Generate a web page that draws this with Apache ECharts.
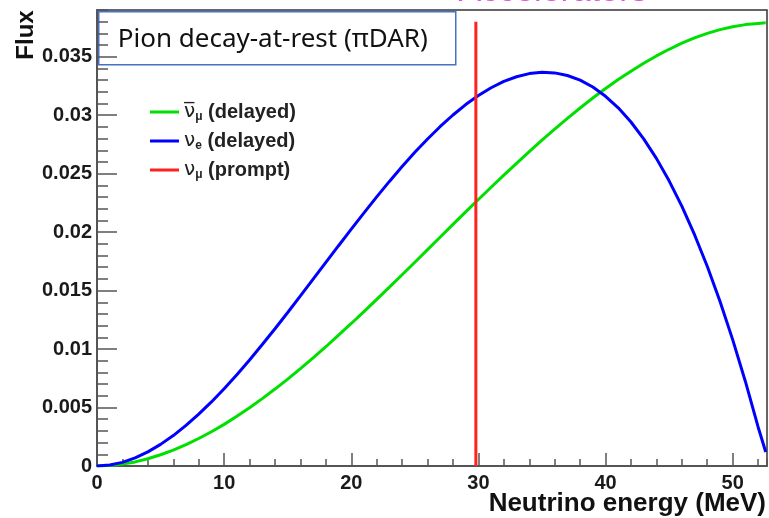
<!DOCTYPE html>
<html>
<head>
<meta charset="utf-8">
<script src="https://cdn.jsdelivr.net/npm/echarts@6/dist/echarts.min.js"></script>
<style>
  html, body { margin: 0; padding: 0; background: #fff; }
  #chart { width: 769px; height: 518px; }
</style>
</head>
<body>
<div id="chart"></div>
<script>
// neutrino energy (MeV) and flux
var energy = [0, 1, 2, 3, 4, 5, 6, 7, 8, 9, 10, 11, 12, 13, 14, 15, 16, 17, 18, 19,
  20, 21, 22, 23, 24, 25, 26, 27, 28, 29, 30, 31, 32, 33, 34, 35, 36, 37, 38, 39,
  40, 41, 42, 43, 44, 45, 46, 47, 48, 49, 50, 51, 52, 52.6];
var numubarFlux = [0, 0.00004, 0.00016, 0.00035, 0.00062, 0.00096, 0.00136, 0.00182,
  0.00235, 0.00293, 0.00356, 0.00425, 0.00498, 0.00576, 0.00658, 0.00743,
  0.00833, 0.00925, 0.0102, 0.01119, 0.01219, 0.01321, 0.01425, 0.0153,
  0.01636, 0.01743, 0.01851, 0.01959, 0.02066, 0.02173, 0.02279, 0.02384,
  0.02488, 0.02589, 0.02689, 0.02787, 0.02882, 0.02973, 0.03062, 0.03147,
  0.03228, 0.03305, 0.03377, 0.03445, 0.03507, 0.03564, 0.03616, 0.03661,
  0.037, 0.03732, 0.03757, 0.03775, 0.03785, 0.0379];
var nueFlux = [0, 0.00008, 0.00031, 0.00069, 0.00121, 0.00185, 0.0026, 0.00347,
  0.00443, 0.00548, 0.00661, 0.00781, 0.00907, 0.01039, 0.01174, 0.01313,
  0.01455, 0.01598, 0.01741, 0.01884, 0.02026, 0.02165, 0.02302, 0.02434,
  0.02561, 0.02683, 0.02797, 0.02904, 0.03002, 0.03091, 0.03168, 0.03235,
  0.03289, 0.03329, 0.03356, 0.03367, 0.03362, 0.0334, 0.033, 0.03241,
  0.03162, 0.03063, 0.02942, 0.02798, 0.02631, 0.02439, 0.02222, 0.01978,
  0.01708, 0.01409, 0.01081, 0.00723, 0.00334, 0.0012];
var promptEnergy = 29.8;
var promptTop = 0.038;

var names = ['numubar', 'nue', 'numu'];
var legendText = {
  numubar: '{nu|ν\u0305}{sub|μ}{t| (delayed)}',
  nue: '{nu|ν}{sub|e}{t| (delayed)}',
  numu: '{nu|ν}{sub|μ}{t| (prompt)}'
};

function pairs(xs, ys) {
  return xs.map(function (x, i) { return [x, ys[i]]; });
}

var chart = echarts.init(document.getElementById('chart'));

var tickStyle = { color: '#555', width: 1.5 };
var labelFont = {
  fontFamily: 'Liberation Sans, Arial, sans-serif',
  fontSize: 20,
  fontWeight: 'bold',
  color: '#1a1a1a'
};
var sans = 'Liberation Sans, Arial, sans-serif';

var option = {
  backgroundColor: '#fff',
  animation: false,
  color: ['#00e000', '#0000ff', '#ff2020'],
  grid: {
    left: 97,
    right: 2,
    top: 10,
    bottom: 52,
    show: true,
    borderColor: '#333',
    borderWidth: 1.5,
    backgroundColor: '#fff'
  },
  legend: {
    orient: 'vertical',
    left: 145,
    top: 96,
    data: names,
    icon: 'rect',
    itemWidth: 29,
    itemHeight: 3,
    itemGap: 7,
    formatter: function (name) { return legendText[name]; },
    textStyle: {
      fontFamily: sans,
      fontWeight: 'bold',
      fontSize: 20,
      color: '#222',
      lineHeight: 22,
      rich: {
        nu: { fontSize: 20, fontWeight: 'normal', color: '#222', fontFamily: 'DejaVu Sans, sans-serif' },
        sub: { fontSize: 12, fontWeight: 'bold', color: '#222', padding: [9, 0, 0, 0], fontFamily: sans },
        t: { fontSize: 20, fontWeight: 'bold', color: '#222', fontFamily: sans }
      }
    }
  },
  xAxis: [{
    type: 'value',
    min: 0,
    max: 52.7,
    interval: 10,
    axisLine: { show: true, lineStyle: { color: '#555', width: 2 } },
    axisTick: { show: true, inside: true, length: 13, lineStyle: tickStyle },
    axisLabel: Object.assign({ margin: 7, showMaxLabel: false }, labelFont),
    splitLine: { show: false }
  }, {
    type: 'value',
    position: 'bottom',
    min: 0,
    max: 52.7,
    interval: 2,
    axisLine: { show: false },
    axisTick: { show: true, inside: true, length: 7, lineStyle: tickStyle },
    axisLabel: { show: false },
    splitLine: { show: false }
  }],
  yAxis: [{
    type: 'value',
    min: 0,
    max: 0.039,
    interval: 0.005,
    axisLine: { show: true, lineStyle: { color: '#555', width: 2 } },
    axisTick: { show: true, inside: true, length: 20, lineStyle: tickStyle },
    axisLabel: Object.assign({ margin: 5, showMaxLabel: false }, labelFont),
    splitLine: { show: false }
  }, {
    type: 'value',
    position: 'left',
    min: 0,
    max: 0.039,
    interval: 0.001,
    axisLine: { show: false },
    axisTick: { show: true, inside: true, length: 11, lineStyle: tickStyle },
    axisLabel: { show: false },
    splitLine: { show: false }
  }],
  series: [{
    name: 'numubar',
    type: 'line',
    symbol: 'none',
    lineStyle: { width: 3 },
    data: pairs(energy, numubarFlux)
  }, {
    name: 'nue',
    type: 'line',
    symbol: 'none',
    lineStyle: { width: 3 },
    data: pairs(energy, nueFlux)
  }, {
    name: 'numu',
    type: 'line',
    symbol: 'none',
    lineStyle: { width: 3 },
    data: [[promptEnergy, 0], [promptEnergy, promptTop]]
  }],
  graphic: [{
    type: 'text',
    x: 553,
    y: 9,
    z: 50,
    style: {
      text: 'Accelerators',
      align: 'center',
      verticalAlign: 'bottom',
      fill: '#e050d8',
      font: '34px "Liberation Sans", Arial, sans-serif'
    }
  }, {
    type: 'text',
    x: 26,
    y: 35,
    rotation: Math.PI / 2,
    z: 50,
    style: {
      text: 'Flux',
      align: 'center',
      verticalAlign: 'middle',
      fill: '#111',
      font: 'bold 24px "Liberation Sans", Arial, sans-serif'
    }
  }, {
    type: 'text',
    right: 3,
    top: 491,
    z: 50,
    style: {
      text: 'Neutrino energy (MeV)',
      fill: '#111',
      font: 'bold 26px "Liberation Sans", Arial, sans-serif'
    }
  }, {
    type: 'group',
    left: 98,
    top: 11,
    z: 60,
    children: [{
      type: 'rect',
      shape: { x: 0, y: 0, width: 357, height: 53 },
      style: { fill: '#fff', stroke: '#4472c4', lineWidth: 1.5 }
    }, {
      type: 'text',
      x: 19,
      y: 28,
      style: {
        text: 'Pion decay-at-rest (πDAR)',
        verticalAlign: 'middle',
        fill: '#111',
        font: '26px "Noto Sans", "Open Sans", sans-serif'
      }
    }]
  }]
};

chart.setOption(option);
</script>
</body>
</html>
